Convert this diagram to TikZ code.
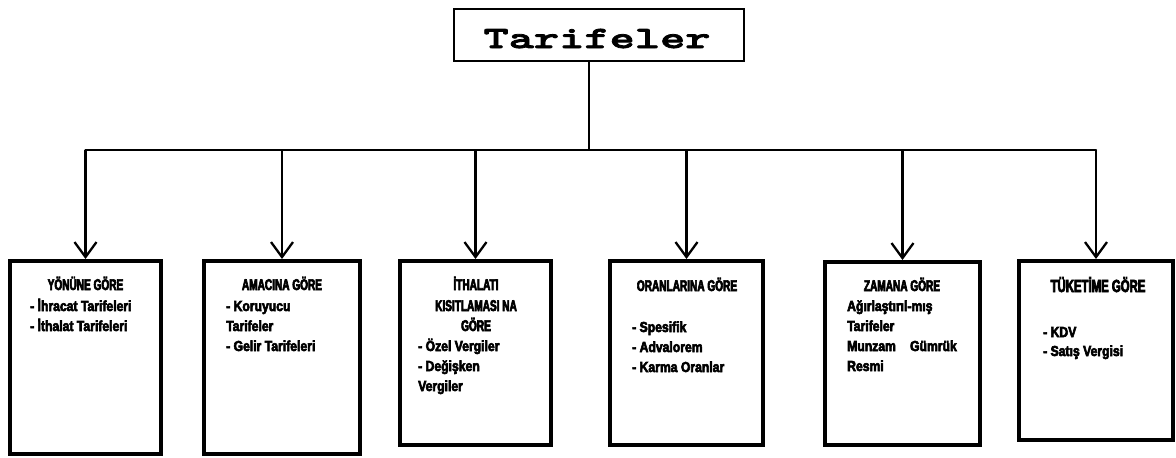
\documentclass[tikz,border=0pt]{standalone}
\usepackage{fontspec}
\usetikzlibrary{arrows.meta}
\newfontfamily\headfont[FakeStretch=0.65, FakeBold=4]{Liberation Sans Bold}
\newfontfamily\itemfont[FakeStretch=0.84, FakeBold=4]{Liberation Sans Bold}
\newfontfamily\titlefont[FakeStretch=1.55, FakeBold=2.5]{lmmonolt10-bold.otf}
\begin{document}
\begin{tikzpicture}[x=1pt,y=-1pt,
  topbox/.style={draw, line width=2pt, minimum width=290pt, minimum height=52pt, inner sep=0pt},
  titletext/.style={font=\titlefont\fontsize{31}{34}\selectfont, anchor=base, inner sep=0pt},
  catbox/.style={draw, line width=4pt, inner sep=0pt},
  head/.style={font=\headfont\fontsize{15.5}{20}\selectfont, anchor=base, inner sep=0pt},
  bighead/.style={font=\headfont\fontsize{17.5}{20}\selectfont, anchor=base, inner sep=0pt},
  item/.style={font=\itemfont\fontsize{14.5}{20}\selectfont, anchor=base west, inner sep=0pt},
  itemr/.style={font=\itemfont\fontsize{14.5}{20}\selectfont, anchor=base east, inner sep=0pt},
  conn/.style={line width=2.3pt},
  arr/.style={conn, -{Straight Barb[length=15pt,width=22pt,line width=2.3pt]}}
]
\useasboundingbox (0,0) rectangle (1176,458);
\fill[white] (0,0) rectangle (1176,458);

% top node
\node[topbox] (top) at (599,35) {};
\node[titletext] (ttl) at (597,48) {Tarifeler};

% category boxes
\node[catbox, minimum width=151pt, minimum height=193pt] (b1) at (85.5,357.5) {};
\node[catbox, minimum width=156pt, minimum height=193pt] (b2) at (282,357.5) {};
\node[catbox, minimum width=151pt, minimum height=184pt] (b3) at (475.5,353) {};
\node[catbox, minimum width=153pt, minimum height=184pt] (b4) at (686.5,353) {};
\node[catbox, minimum width=155pt, minimum height=183pt] (b5) at (902.5,353.5) {};
\node[catbox, minimum width=154pt, minimum height=179pt] (b6) at (1096,350.5) {};

% connectors
\coordinate (j) at (589,150);
\draw[conn] (top.south -| j) -- (j);
\draw[conn, line cap=round] (b1.north |- j) -- (b6.north |- j);
\foreach \b in {b1,b2,b3,b4,b5,b6}
  \draw[arr] (\b.north |- j) -- (\b.north);

% box 1
\node[head] (h1) at (85.5,290) {YÖNÜNE GÖRE};
\node[item] (i11) at (30,311) {- İhracat Tarifeleri};
\node[item] (i12) at (30,331) {- İthalat Tarifeleri};

% box 2
\node[head] (h2) at (282,290) {AMACINA GÖRE};
\node[item] (i21) at (226,311) {- Koruyucu};
\node[item] (i22) at (226,331) {Tarifeler};
\node[item] (i23) at (226,351) {- Gelir Tarifeleri};

% box 3
\node[head] (h31) at (476,290) {İTHALATI};
\node[head] (h32) at (476,311) {KISITLAMASI NA};
\node[head] (h33) at (476,331) {GÖRE};
\node[item] (i31) at (418,351) {- Özel Vergiler};
\node[item] (i32) at (418,371) {- Değişken};
\node[item] (i33) at (418,391) {Vergiler};

% box 4
\node[head] (h4) at (687,291) {ORANLARINA GÖRE};
\node[item] (i41) at (632,332) {- Spesifik};
\node[item] (i42) at (632,352) {- Advalorem};
\node[item] (i43) at (632,372) {- Karma Oranlar};

% box 5
\node[head] (h5) at (902,291) {ZAMANA GÖRE};
\node[item] (i51) at (847,311) {Ağırlaştırıl-mış};
\node[item] (i52) at (847,331) {Tarifeler};
\node[item] (i53) at (847,351) {Munzam};
\node[itemr] (i54) at (957,351) {Gümrük};
\node[item] (i55) at (847,371) {Resmi};

% box 6
\node[bighead] (h6) at (1098,292) {TÜKETİME GÖRE};
\node[item] (i61) at (1043,337) {- KDV};
\node[item] (i62) at (1043,356) {- Satış Vergisi};
\end{tikzpicture}
\end{document}
